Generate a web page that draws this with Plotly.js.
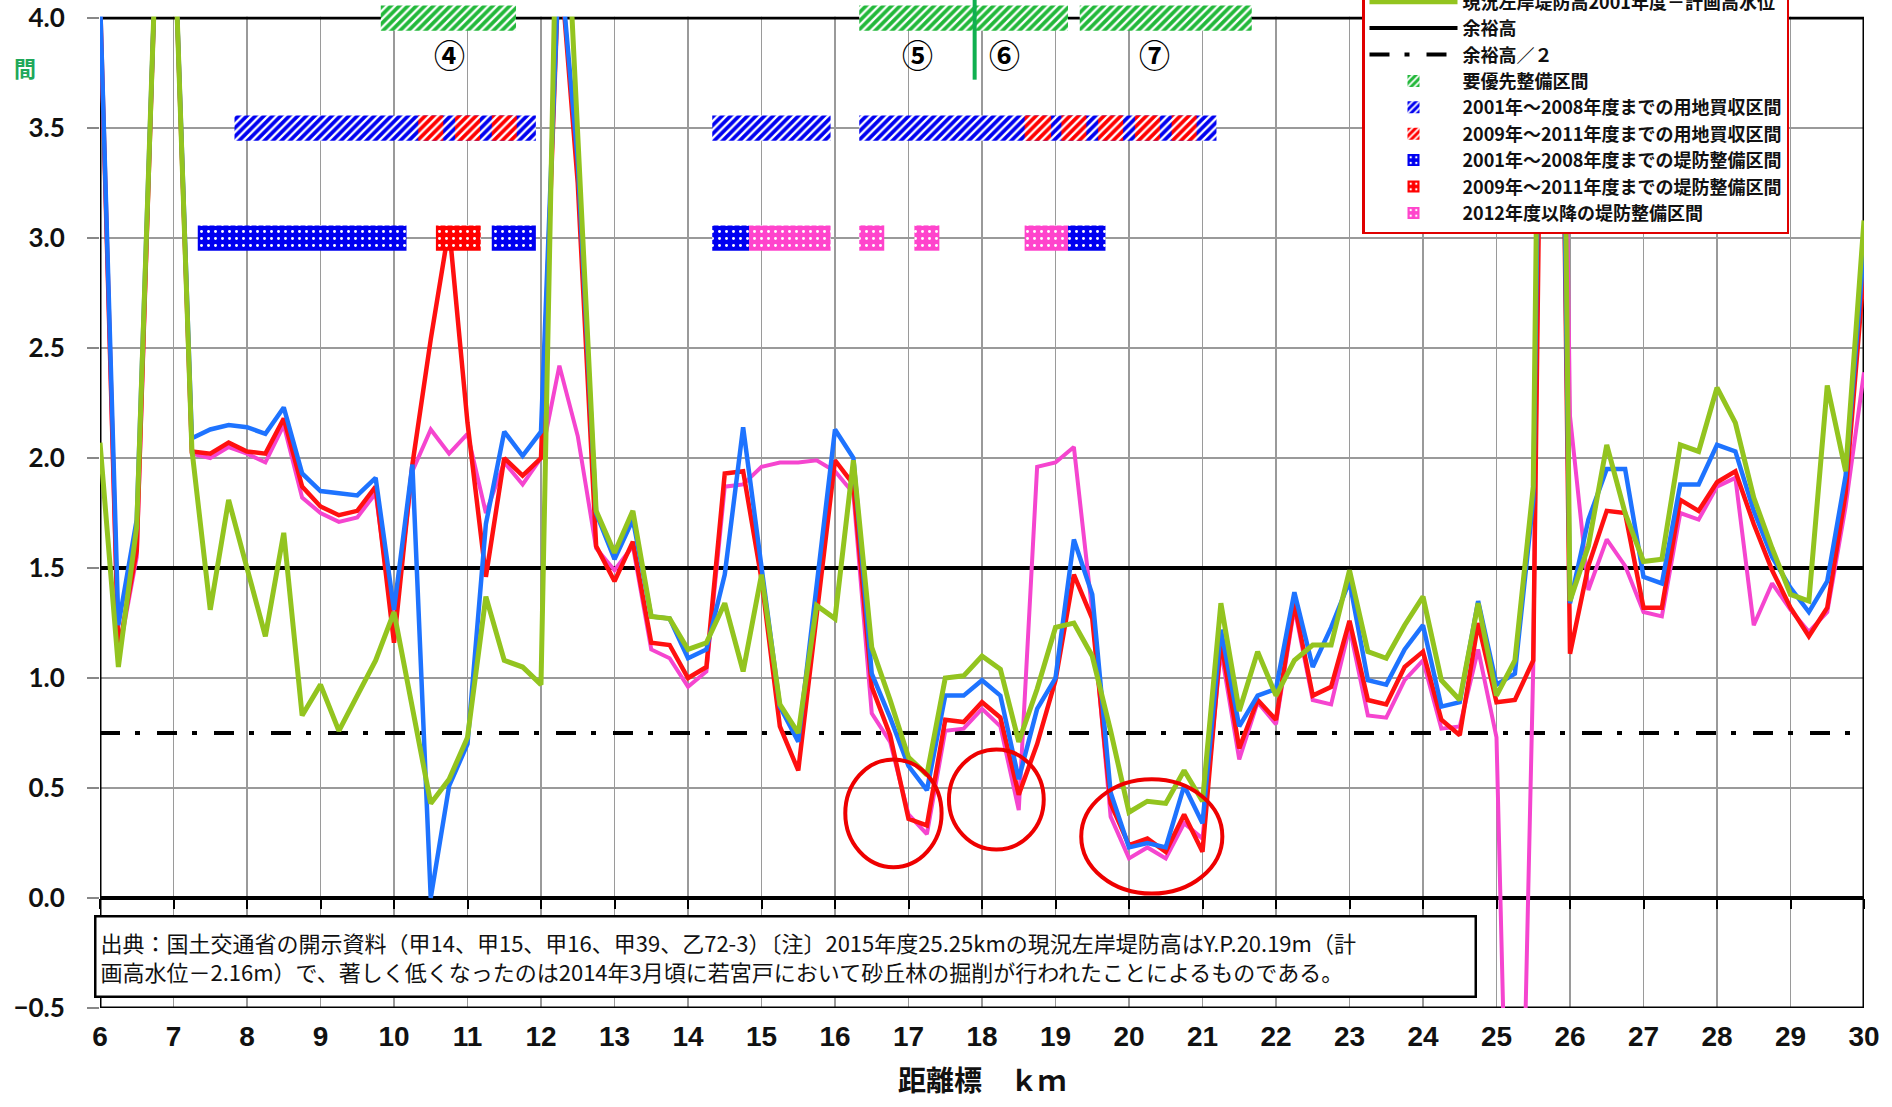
<!DOCTYPE html>
<html><head><meta charset="utf-8">
<script src="https://cdn.plot.ly/plotly-3.0.1.min.js"></script>
<style>html,body{margin:0;padding:0;background:#fff;} #chart{width:1892px;height:1107px;}</style>
</head><body><div id="chart"></div>
<script>
// ---------- data ----------
const km = [6.0,6.25,6.5,6.75,7.0,7.25,7.5,7.75,8.0,8.25,8.5,8.75,9.0,9.25,9.5,9.75,10.0,10.25,10.5,10.75,11.0,11.25,11.5,11.75,12.0,12.25,12.5,12.75,13.0,13.25,13.5,13.75,14.0,14.25,14.5,14.75,15.0,15.25,15.5,15.75,16.0,16.25,16.5,16.75,17.0,17.25,17.5,17.75,18.0,18.25,18.5,18.75,19.0,19.25,19.5,19.75,20.0,20.25,20.5,20.75,21.0,21.25,21.5,21.75,22.0,22.25,22.5,22.75,23.0,23.25,23.5,23.75,24.0,24.25,24.5,24.75,25.0,25.25,25.5,25.75,26.0,26.25,26.5,26.75,27.0,27.25,27.5,27.75,28.0,28.25,28.5,28.75,29.0,29.25,29.5,29.75,30.0];

// 現況左岸堤防高2001年度−計画高水位 (green)
const levee2001 = [2.07,1.05,1.69,4.2,4.5,2.04,1.31,1.81,1.50,1.19,1.66,0.83,0.97,0.76,0.92,1.08,1.30,0.87,0.43,0.54,0.73,1.37,1.08,1.05,0.97,5.18,3.5,1.76,1.57,1.76,1.28,1.27,1.13,1.16,1.34,1.03,1.47,0.88,0.75,1.33,1.27,1.99,1.14,0.90,0.64,0.56,1.00,1.01,1.10,1.04,0.71,0.95,1.23,1.25,1.10,0.76,0.39,0.44,0.43,0.58,0.44,1.34,0.85,1.12,0.92,1.08,1.15,1.15,1.49,1.12,1.09,1.24,1.37,0.99,0.90,1.34,0.92,1.08,1.87,9.0,1.35,1.60,2.06,1.75,1.53,1.54,2.06,2.03,2.32,2.16,1.82,1.59,1.38,1.35,2.33,1.94,3.08];
// blue line
const leveeBlue = [4.1,1.24,1.72,4.2,4.5,2.09,2.13,2.15,2.14,2.11,2.23,1.93,1.85,1.84,1.83,1.91,1.31,1.97,0.0,0.51,0.70,1.70,2.12,2.01,2.12,4.3,3.35,1.75,1.54,1.72,1.28,1.27,1.09,1.13,1.47,2.14,1.50,0.87,0.71,1.42,2.13,2.0,1.02,0.82,0.60,0.49,0.92,0.92,0.99,0.92,0.54,0.86,1.00,1.63,1.38,0.48,0.23,0.25,0.23,0.51,0.34,1.22,0.78,0.92,0.95,1.39,1.05,1.23,1.44,0.99,0.97,1.13,1.24,0.87,0.89,1.35,0.97,1.02,1.81,7.5,1.34,1.72,1.95,1.95,1.46,1.43,1.88,1.88,2.06,2.03,1.76,1.55,1.41,1.30,1.44,1.92,2.95];
// red line
const leveeRed = [4.1,1.12,1.58,4.2,4.5,2.03,2.02,2.07,2.03,2.02,2.18,1.87,1.78,1.74,1.76,1.87,1.16,1.97,2.54,3.05,2.16,1.46,2.00,1.92,2.00,4.3,3.25,1.60,1.44,1.62,1.16,1.15,1.00,1.05,1.93,1.94,1.45,0.78,0.58,1.30,1.99,1.88,0.96,0.74,0.36,0.33,0.81,0.80,0.89,0.82,0.47,0.70,0.99,1.47,1.27,0.43,0.24,0.27,0.21,0.38,0.21,1.17,0.68,0.90,0.81,1.34,0.92,0.96,1.26,0.90,0.88,1.05,1.12,0.81,0.74,1.25,0.89,0.90,1.08,7.7,1.11,1.51,1.76,1.75,1.32,1.32,1.81,1.76,1.89,1.94,1.70,1.49,1.32,1.19,1.32,1.84,2.85];
// pink line
const leveePink = [4.1,1.10,1.55,4.2,4.5,2.02,2.00,2.05,2.02,1.98,2.15,1.82,1.75,1.71,1.73,1.84,1.22,1.94,2.13,2.02,2.11,1.75,1.98,1.88,2.00,2.42,2.10,1.59,1.49,1.60,1.13,1.09,0.96,1.03,1.87,1.88,1.96,1.98,1.98,1.99,1.94,1.84,0.84,0.71,0.38,0.29,0.76,0.77,0.86,0.78,0.40,1.96,1.98,2.05,1.30,0.37,0.18,0.23,0.18,0.34,0.27,1.13,0.63,0.89,0.79,1.32,0.90,0.88,1.23,0.83,0.82,0.99,1.08,0.77,0.78,1.13,0.73,-2.7,1.05,8.4,2.19,1.40,1.63,1.51,1.30,1.28,1.75,1.72,1.87,1.91,1.24,1.43,1.31,1.21,1.30,1.78,2.39];

const freeboard = 1.5;      // 余裕高
const halfFreeboard = 0.75; // 余裕高／２
const xRange = [6, 30];
const yBottom = -0.5, yFrameTop = 4.0;
const yTop = 4.064;          // head-room so the top row of bars can overhang the frame

// section rows
const rowPriority = 4.0, rowLand = 3.5, rowLevee = 3.0;
const priorityStart = [9.82, 16.33, 19.33];
const priorityEnd   = [11.66, 19.17, 21.67];
const land0108Start = [7.83, 14.33, 16.33];
const land0108End   = [11.93, 15.94, 21.19];
const land0911Start = [10.33, 10.83, 11.33, 18.58, 19.08, 19.58, 20.08, 20.58];
const land0911End   = [10.67, 11.17, 11.67, 18.94, 19.42, 19.92, 20.42, 20.92];
const levee0108Start = [7.33, 11.33, 14.33, 19.17];
const levee0108End   = [10.17, 11.93, 14.83, 19.68];
const levee0911Start = [10.57];
const levee0911End   = [11.18];
const levee2012Start = [14.83, 16.33, 17.08, 18.58];
const levee2012End   = [15.94, 16.67, 17.42, 19.17];

const sectionLabels = ['④', '⑤', '⑥', '⑦'];
const sectionLabelKm = [10.75, 17.12, 18.31, 20.35];
const sectionLabelLevel = 3.84;
const dividerKm = 17.9, dividerLow = 3.72;

// highlighted low points (x0, x1, y0, y1)
const highlightX0 = [16.14, 17.55, 19.35];
const highlightX1 = [17.45, 18.84, 21.27];
const highlightY0 = [0.14, 0.22, 0.02];
const highlightY1 = [0.63, 0.675, 0.54];

const noteText = '出典：国土交通省の開示資料（甲14、甲15、甲16、甲39、乙72-3）〔注〕2015年度25.25kmの現況左岸堤防高はY.P.20.19m（計<br>画高水位－2.16m）で、著しく低くなったのは2014年3月頃に若宮戸において砂丘林の掘削が行われたことによるものである。';

// ---------- styling ----------
const JP = 'Noto Sans CJK JP, sans-serif';
const C = {green:'#93C41F', blue:'#1E73FF', red:'#FF1010', pink:'#F545CF',
           barGreen:'#22B83A', barBlue:'#0000F0', barRed:'#FF0000', barPink:'#FF44CC'};

function bars(starts, ends, level, color, shape, name, rank) {
  return {
    type:'bar', orientation:'h', name:name, legendrank:rank, xaxis:'x', yaxis:'y2',
    y: starts.map(() => level), base: starts, x: starts.map((s,i) => ends[i]-s),
    width: 0.115, hoverinfo:'skip',
    marker:{color:color, line:{width:0},
      pattern:{shape:shape, fillmode:'replace', bgcolor:color, fgcolor:'#ffffff',
               size: shape === '/' ? 6 : 7, solidity: shape === '/' ? 0.38 : 0.14}}
  };
}
function line(y, color, width, name, show, rank) {
  return {type:'scatter', mode:'lines', x: km, y: y, name:name, showlegend:show, legendrank:rank,
          line:{color:color, width:width}, hoverinfo:'skip'};
}

const pxPerUnit = 220;
const maskLow = yFrameTop + 1.6/pxPerUnit;

const traces = [
  {type:'scatter', mode:'lines', x:xRange, y:[freeboard, freeboard], name:'余裕高', legendrank:2,
   line:{color:'#000', width:4}, hoverinfo:'skip'},
  {type:'scatter', mode:'lines', x:xRange, y:[halfFreeboard, halfFreeboard], name:'余裕高／２', legendrank:3,
   line:{color:'#000', width:4, dash:'20px,15px,5px,17px'}, hoverinfo:'skip'},
  line(leveePink, C.pink, 4, '2015', false, 20),
  line(leveeRed, C.red, 4.5, '2011', false, 21),
  line(leveeBlue, C.blue, 4.5, '2008', false, 22),
  line(levee2001, C.green, 5, '現況左岸堤防高2001年度－計画高水位', true, 1),
  // white band above the frame: hides the over-range line tips, under the top row of bars
  {type:'bar', orientation:'h', xaxis:'x', yaxis:'y2', showlegend:false, hoverinfo:'skip',
   y:[(maskLow + yTop)/2], base:[xRange[0]], x:[xRange[1]-xRange[0]], width:(yTop - maskLow),
   marker:{color:'#ffffff', line:{width:0}}},
  bars(priorityStart, priorityEnd, rowPriority, C.barGreen, '/', '要優先整備区間', 4),
  bars(land0108Start, land0108End, rowLand, C.barBlue, '/', '2001年～2008年度までの用地買収区間', 5),
  bars(land0911Start, land0911End, rowLand, C.barRed, '/', '2009年～2011年度までの用地買収区間', 6),
  bars(levee0108Start, levee0108End, rowLevee, C.barBlue, '.', '2001年～2008年度までの堤防整備区間', 7),
  bars(levee0911Start, levee0911End, rowLevee, C.barRed, '.', '2009年～2011年度までの堤防整備区間', 8),
  bars(levee2012Start, levee2012End, rowLevee, C.barPink, '.', '2012年度以降の堤防整備区間', 9),
  // carrier for the zero-line tick marks
  {type:'scatter', mode:'lines', x:xRange, y:[0,0], xaxis:'x2', showlegend:false,
   line:{width:0, color:'rgba(0,0,0,0)'}, hoverinfo:'skip'}
];

const shapes = [{type:'rect', xref:'x', yref:'y', x0:xRange[0], x1:xRange[1], y0:yBottom, y1:yFrameTop,
  layer:'between', line:{color:'#000', width:3}, fillcolor:'rgba(0,0,0,0)'}];
highlightX0.forEach((x0,i) => shapes.push({
  type:'circle', xref:'x', yref:'y', x0:x0, x1:highlightX1[i], y0:highlightY0[i], y1:highlightY1[i],
  line:{color:'#EE0000', width:4}
}));
const pY = v => (v - yBottom)/(yTop - yBottom);
const pX = v => (v - xRange[0])/(xRange[1]-xRange[0]);
shapes.push({type:'line', xref:'paper', yref:'paper', x0:pX(dividerKm), x1:pX(dividerKm),
  y0:pY(dividerLow), y1:1.01, line:{color:'#10B050', width:4}});

const annotations = sectionLabels.map((t,i) => ({
  text:t, x:sectionLabelKm[i], y:sectionLabelLevel, xref:'x', yref:'y', showarrow:false,
  font:{family:JP, size:31, color:'#000', weight:'bold'}
}));
annotations.push({
  text: noteText, xref:'paper', yref:'y', x:-0.0034, y:-0.077, xanchor:'left', yanchor:'top',
  showarrow:false, align:'left', valign:'middle', bgcolor:'#fff', bordercolor:'#000', borderwidth:2.5,
  borderpad:4, width:1370, height:70, font:{family:JP, size:22, color:'#111'}
});
annotations.push({text:'間', xref:'paper', yref:'paper', x:-0.05, y:pY(3.86), showarrow:false,
  font:{family:JP, size:22, color:'#1FA85A', weight:'bold'}});

const plotH = 1008 - 4;
const layout = {
  width:1892, height:1107, paper_bgcolor:'#fff', plot_bgcolor:'#fff',
  margin:{l:100, r:28, t:4, b:99, autoexpand:false},
  barmode:'overlay', showlegend:true,
  font:{family:JP},
  xaxis:{range:xRange, dtick:1, tick0:6, showgrid:true, gridcolor:'#9a9a9a', gridwidth:1.5,
    showline:false, ticks:'', zeroline:false, ticklabelstandoff:9,
    tickfont:{family:'Liberation Sans Narrow, Liberation Sans, sans-serif', size:28, color:'#111', weight:'bold'},
    title:{text:'距離標　ｋｍ', standoff:20, font:{family:JP, size:28, color:'#111', weight:'bold'}},
    automargin:false},
  xaxis2:{range:xRange, overlaying:'x', anchor:'free', position:pY(0), side:'bottom', dtick:1, tick0:6,
    ticks:'outside', ticklen:10, tickwidth:2, tickcolor:'#000', showticklabels:false,
    showgrid:false, showline:false, zeroline:false},
  yaxis:{range:[yBottom, yTop], dtick:0.5, tick0:0, tickformat:'.1f', showgrid:true, gridcolor:'#9a9a9a', gridwidth:1.5,
    showline:false, zeroline:true, zerolinecolor:'#000', zerolinewidth:3.5,
    ticks:'outside', ticklen:12, tickcolor:'#888', tickwidth:1.5, ticklabelstandoff:17,
    tickfont:{family:'Lato, Liberation Sans, sans-serif', size:26, color:'#111', weight:'bold'},
    automargin:false},
  yaxis2:{range:[yBottom, yTop], overlaying:'y', visible:false, showgrid:false, zeroline:false},
  legend:{x:(1362-100)/1764, xanchor:'left', y:(1008-234)/plotH, yanchor:'bottom',
    bgcolor:'#fff', bordercolor:'#E00000', borderwidth:2.5, traceorder:'normal',
    itemwidth:88, tracegroupgap:0,
    font:{family:JP, size:18, color:'#111', weight:'bold'}},
  shapes:shapes, annotations:annotations
};

Plotly.newPlot('chart', traces, layout, {staticPlot:true});
</script></body></html>
